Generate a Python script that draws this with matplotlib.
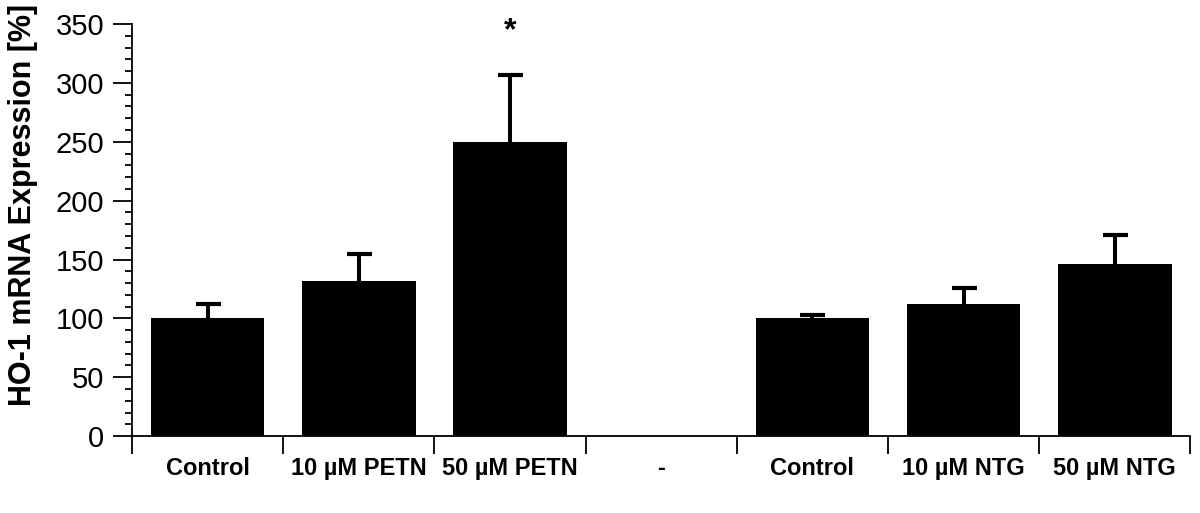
import matplotlib.pyplot as plt
import numpy as np

plt.rcParams['font.family'] = ['Liberation Sans', 'DejaVu Sans']

labels = ['Control', '10 µM PETN', '50 µM PETN', '-', 'Control', '10 µM NTG', '50 µM NTG']
means = [100, 132, 250, 0, 100, 112, 146]
upper = [12, 23, 57, 0, 3, 14, 25]
stars = ['', '', '*', '', '', '', '']

x = np.arange(len(labels))

fig = plt.figure(figsize=(12, 5.13), dpi=100)
ax = fig.add_axes([0.11, 0.150, 0.882, 0.803])

has_bar = np.array(means) > 0
ax.bar(x[has_bar], np.array(means)[has_bar], width=0.75, color='black')
eb = ax.errorbar(x[has_bar], np.array(means)[has_bar],
                 yerr=[np.zeros(has_bar.sum()), np.array(upper)[has_bar]],
                 fmt='none', ecolor='black', elinewidth=2.9, capsize=9, capthick=3)
# only the upper cap is shown
eb[1][0].set_visible(False)

for xi, m, u, s in zip(x, means, upper, stars):
    if s:
        ax.text(xi, 344, s, ha='center', va='center', fontsize=23, fontweight='bold')

ax.set_xlim(-0.5, len(labels) - 0.5)
ax.set_ylim(0, 350)

# category labels centered, tick marks at the boundaries
ax.set_xticks(x)
ax.set_xticklabels(labels, fontsize=17, fontweight='bold')
ax.tick_params(axis='x', which='major', length=0, pad=15)
ax.set_xticks(np.arange(len(labels) + 1) - 0.5, minor=True)
ax.tick_params(axis='x', which='minor', length=13, width=1.3, direction='out')

ax.set_yticks(np.arange(0, 351, 50))
ax.set_yticks(np.arange(0, 351, 10), minor=True)
ax.tick_params(axis='y', which='major', length=14, width=1.3, labelsize=21, pad=6)
ax.tick_params(axis='y', which='minor', length=5, width=1.3)

ax.set_ylabel('HO-1 mRNA Expression [%]', fontsize=22, fontweight='bold')
ax.yaxis.set_label_coords(-0.089, 0.56)

ax.spines['top'].set_visible(False)
ax.spines['right'].set_visible(False)
ax.spines['left'].set_linewidth(1.3)
ax.spines['bottom'].set_linewidth(1.3)

fig.savefig('out.png', dpi=100)
